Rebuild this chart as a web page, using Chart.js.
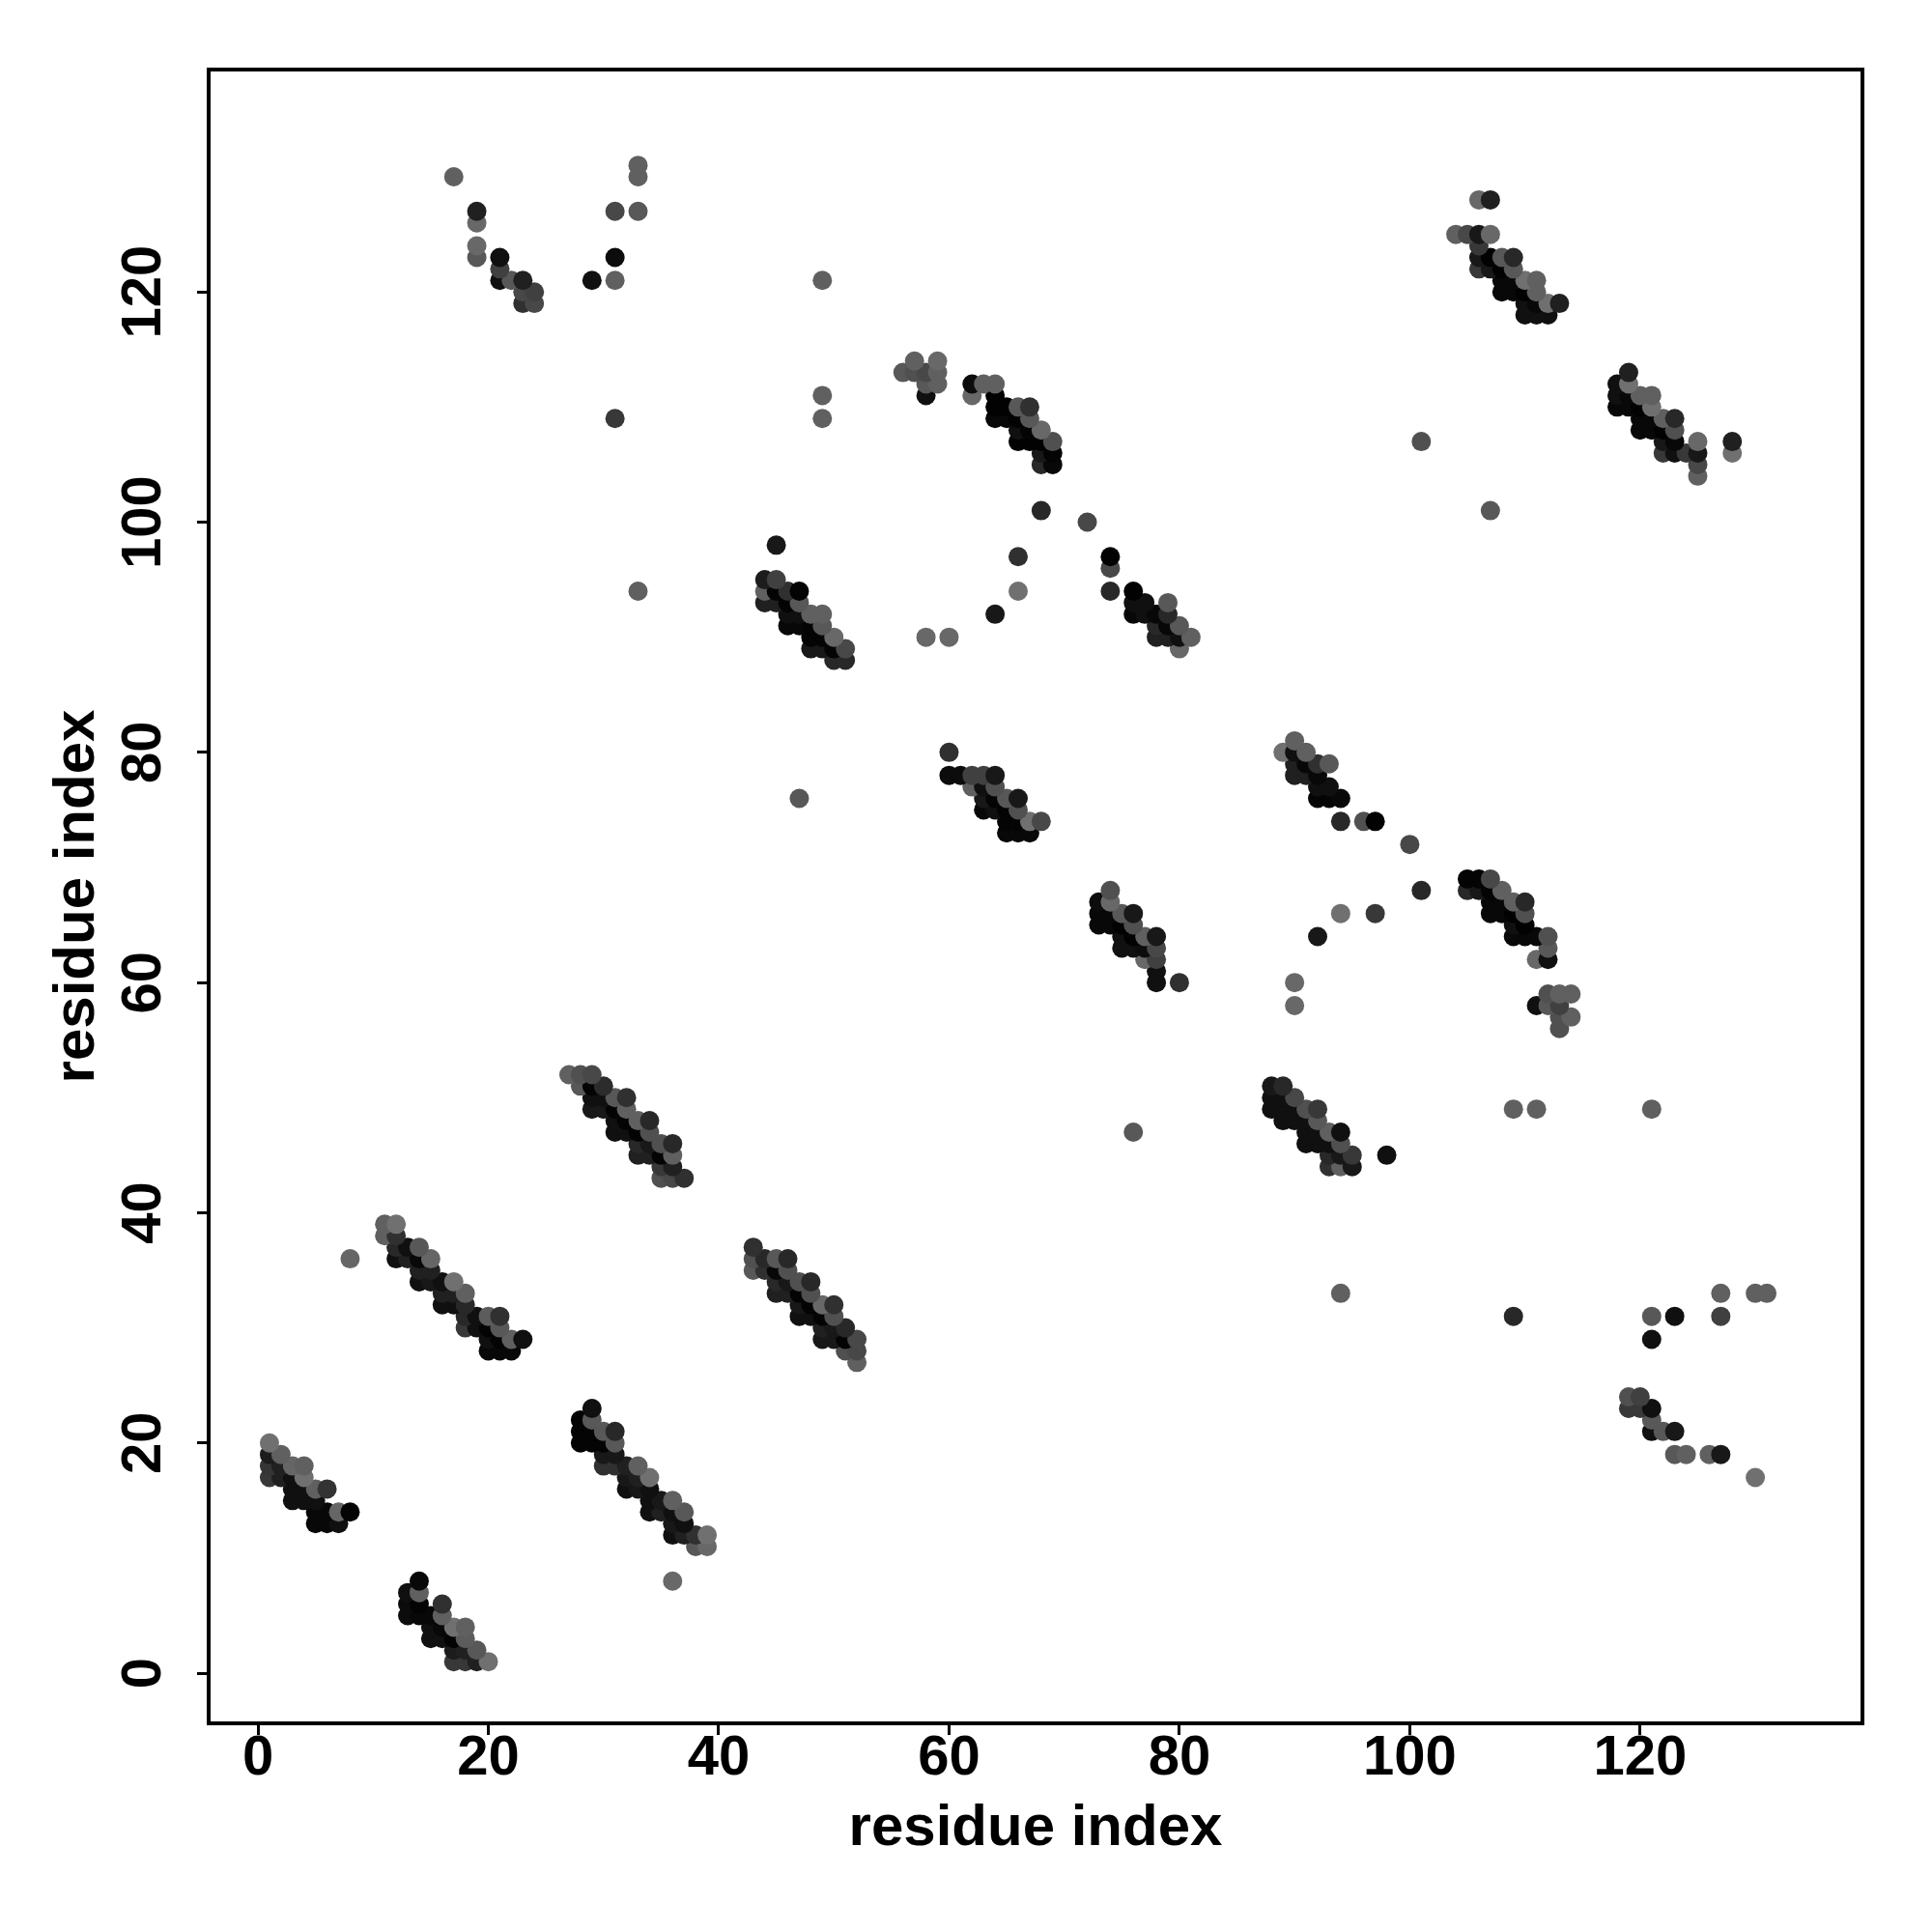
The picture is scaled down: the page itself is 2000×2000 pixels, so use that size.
<!DOCTYPE html>
<html>
<head>
<meta charset="utf-8">
<title>residue contacts</title>
<script src="https://cdn.jsdelivr.net/npm/chart.js@4"></script>
<style>
  html, body { margin: 0; padding: 0; background: #fff; }
  canvas { display: block; }
</style>
</head>
<body>
<canvas id="contactChart" width="2000" height="2000"></canvas>
<script>
// Chart data, one source line per row of contacts
const tickValues = [0, 20, 40, 60, 80, 100, 120];
const xAxisTitle = 'residue index';
const yAxisTitle = 'residue index';

const residueX = [
  1, 1,2, 1,2,3,4, 1,2,3,4, 3,4,5,6, 3,4,5, 5,6,7,8, 5,6,7,
  14, 13,14, 13,14,16, 13,14,15,16, 15,16,17,18, 15,16,17,18, 17,18,19, 17,18,19,20,
  8, 11,12, 11,12, 12,13,14, 12,13,14,15, 14,15, 14,15,16,17, 16,17,18, 16,17,18, 18,19,20,21, 18,19,20,21, 20,21,22,23, 20,21,22,
  27,28,29, 28,29,30, 29,30,31,32, 29,30,31,32, 31,32,33,34, 31,32,33,34, 33,34,35,36, 33,34,35,36, 35,36, 35,36,37,
  29, 28,29, 28,29,30,31, 28,29,30,31, 30,31, 30,31,32,33, 32,33,34, 32,33,34, 34,35,36, 34,35,36,37, 36,37, 36,37,38,39, 38,39, 36,
  43, 43,44,45,46, 43,44,45,46, 45,46,47,48, 45,46,47,48, 47,48,49,50, 47,48,49,50, 49,50,51, 49,50,51,52, 51,52, 52,
  45, 44,45, 44,45,46,47, 44,45,46,47, 46,47,48,49, 46,47,48,49, 48,49,50, 48,49,50,51, 50,51,
  47, 58,60, 64, 66, 66,
  60, 60,61,62,63,64, 62,63,64, 63,64,65,66, 63,64,65,66, 65,66,67,68, 65,66,67,
  57,59, 56,57,58,59, 58,59,62,63,64, 58,62,64, 64,65,66,67, 64,65,66,67, 66,67,68, 66,67,68,69, 68,69, 68,69,
  68, 72, 74, 74, 74,
  76, 76,77,79, 76,77,78,79, 78,79,80, 78,79,80,81, 80,
  74, 73,74, 73,74,75,76, 73,74,75,76, 75,76,77,78, 75,76,77,78, 77,78, 78, 78,80,
  90, 89,90,91, 90,91,92,93, 90,91,92, 92,93, 92,93,94, 94,96,97,
  100, 101, 94,97, 92, 90, 90,
  105,106,107, 105,106,107,108, 107,108,109,110, 107,108,109,110, 109,110, 109,110,111,112, 112, 111,112,
  112,113,114, 111,112,113, 113,114, 113,
  88,89, 88,89,90, 88,89,90,91,92, 89,90,91,92, 91,92,93,94, 91,92,93,94, 93,94,95, 93,94,95, 98,
  106,107, 104,105,106,107, 106, 106,107,108,109, 106,107,108,109, 108,109,110,111, 108,109,110,111, 110,111,112,113, 110,111,112,
  119, 118,119, 118,119,120,121, 118,119,120,121, 120,121,122,123, 120,121,122,123, 122,123,125,128, 122,123,124,125,128, 125, 125,
  107, 101,
  17, 19, 19, 19, 19, 21, 21, 21,22,23, 23,24, 23,24,
  29, 31, 31, 31, 31, 33, 33, 33, 33,
  49, 49, 49,
  76, 94, 109,111,121, 109,121,123, 121, 127, 127, 130,131, 130,
  119,120, 119,120,121, 121, 121,122,123, 123,124,126,127
];

const residueY = [
  20, 19,19, 18,18,18,18, 17,17,17,17, 16,16,16,16, 15,15,15, 14,14,14,14, 13,13,13,
  8, 7,7, 6,6,6, 5,5,5,5, 4,4,4,4, 3,3,3,3, 2,2,2, 1,1,1,1,
  36, 39,39, 38,38, 37,37,37, 36,36,36,36, 35,35, 34,34,34,34, 33,33,33, 32,32,32, 31,31,31,31, 30,30,30,30, 29,29,29,29, 28,28,28,
  52,52,52, 51,51,51, 50,50,50,50, 49,49,49,49, 48,48,48,48, 47,47,47,47, 46,46,46,46, 45,45,45,45, 44,44, 43,43,43,
  23, 22,22, 21,21,21,21, 20,20,20,20, 19,19, 18,18,18,18, 17,17,17, 16,16,16, 15,15,15, 14,14,14,14, 13,13, 12,12,12,12, 11,11, 8,
  37, 36,36,36,36, 35,35,35,35, 34,34,34,34, 33,33,33,33, 32,32,32,32, 31,31,31,31, 30,30,30, 29,29,29,29, 28,28, 27,
  98, 95,95, 94,94,94,94, 93,93,93,93, 92,92,92,92, 91,91,91,91, 90,90,90, 89,89,89,89, 88,88,
  76, 90,90, 92, 94, 97,
  80, 78,78,78,78,78, 77,77,77, 76,76,76,76, 75,75,75,75, 74,74,74,74, 73,73,73,
  114,114, 113,113,113,113, 112,112,112,112,112, 111,111,111, 110,110,110,110, 109,109,109,109, 108,108,108, 107,107,107,107, 106,106, 105,105,
  101, 100, 97, 96, 94,
  94, 93,93,93, 92,92,92,92, 91,91,91, 90,90,90,90, 89,
  68, 67,67, 66,66,66,66, 65,65,65,65, 64,64,64,64, 63,63,63,63, 62,62, 61, 60,60,
  81, 80,80,80, 79,79,79,79, 78,78,78, 77,77, 76,76,76, 74,74,74,
  72, 68, 66,66, 64, 60, 58,
  69,69,69, 68,68,68,68, 67,67,67,67, 66,66,66,66, 65,65, 64,64,64,64, 63, 62,62,
  59,59,59, 58,58,58, 57,57, 56,
  51,51, 50,50,50, 49,49,49,49,49, 48,48,48,48, 47,47,47,47, 46,46,46,46, 45,45,45, 44,44,44, 45,
  128,128, 125,125,125,125, 124, 123,123,123,123, 122,122,122,122, 121,121,121,121, 120,120,120,120, 119,119,119,119, 118,118,118,
  113, 112,112, 111,111,111,111, 110,110,110,110, 109,109,109,109, 108,108,108,108, 107,107,107,107, 106,106,106,106,106, 105, 104,
  101, 107,
  130, 127, 126, 124, 123, 123, 122, 121,121,121, 120,120, 119,119,
  121, 127, 123, 121, 109, 131, 130, 127, 94,
  121, 111, 109,
  47, 33, 49,49,49, 31,31,31, 29, 33, 31, 33,33, 17,
  24,24, 23,23,23, 22, 21,21,21, 19,19,19,19
];

// grey level of each contact, 0 = black
const contactLevel = [
  0x70, 0x1c,0x60, 0x35,0x20,0x66,0x60, 0x38,0x20,0x10,0x70, 0x10,0x10,0x60,0x33, 0x10,0x10,0x10, 0x08,0x08,0x66,0x04, 0x08,0x08,0x10,
  0x08, 0x10,0x60, 0x0c,0x04,0x30, 0x0c,0x08,0x08,0x60, 0x10,0x08,0x70,0x60, 0x10,0x10,0x04,0x5c, 0x1c,0x20,0x58, 0x38,0x38,0x20,0x70,
  0x66, 0x60,0x70, 0x60,0x30, 0x28,0x10,0x58, 0x10,0x20,0x08,0x66, 0x20,0x20, 0x10,0x18,0x10,0x70, 0x20,0x20,0x60, 0x10,0x10,0x28, 0x28,0x10,0x5c,0x30, 0x38,0x10,0x04,0x58, 0x10,0x04,0x60,0x10, 0x08,0x08,0x08,
  0x60,0x50,0x48, 0x58,0x04,0x2c, 0x10,0x10,0x58,0x30, 0x18,0x18,0x04,0x60, 0x10,0x04,0x60,0x28, 0x10,0x10,0x04,0x50, 0x28,0x18,0x50,0x28, 0x20,0x20,0x04,0x60, 0x38,0x20, 0x50,0x48,0x30,
  0x10, 0x04,0x58, 0x04,0x04,0x58,0x28, 0x04,0x04,0x04,0x58, 0x18,0x18, 0x30,0x30,0x20,0x60, 0x18,0x20,0x70, 0x10,0x18,0x10, 0x10,0x18,0x60, 0x10,0x20,0x10,0x58, 0x18,0x10, 0x10,0x20,0x30,0x70, 0x58,0x68, 0x68,
  0x30, 0x50,0x28,0x58,0x28, 0x58,0x30,0x08,0x50, 0x28,0x18,0x50,0x28, 0x20,0x20,0x04,0x50, 0x18,0x04,0x68,0x30, 0x10,0x10,0x04,0x50, 0x20,0x18,0x28, 0x18,0x18,0x04,0x48, 0x50,0x48, 0x60,
  0x18, 0x1c,0x40, 0x60,0x04,0x30,0x04, 0x20,0x20,0x04,0x58, 0x10,0x10,0x60,0x60, 0x08,0x08,0x04,0x58, 0x04,0x04,0x68, 0x18,0x18,0x04,0x48, 0x28,0x28,
  0x58, 0x68,0x68, 0x18, 0x70, 0x30,
  0x30, 0x0c,0x0c,0x40,0x40,0x18, 0x60,0x10,0x50, 0x18,0x04,0x58,0x18, 0x08,0x10,0x04,0x50, 0x04,0x04,0x70,0x48, 0x08,0x08,0x08,
  0x60,0x68, 0x58,0x50,0x48,0x60, 0x58,0x60,0x0c,0x60,0x60, 0x10,0x68,0x02, 0x02,0x02,0x58,0x30, 0x08,0x08,0x02,0x58, 0x10,0x04,0x68, 0x02,0x02,0x02,0x50, 0x18,0x04, 0x28,0x08,
  0x28, 0x48, 0x02, 0x48, 0x28,
  0x02, 0x10,0x10,0x58, 0x08,0x10,0x08,0x28, 0x28,0x08,0x58, 0x20,0x20,0x10,0x60, 0x68,
  0x50, 0x0c,0x68, 0x08,0x08,0x58,0x18, 0x08,0x08,0x02,0x50, 0x10,0x02,0x60,0x18, 0x10,0x10,0x0c,0x48, 0x68,0x40, 0x10, 0x10,0x30,
  0x60, 0x70,0x10,0x60, 0x20,0x08,0x30,0x58, 0x20,0x20,0x08, 0x10,0x10, 0x04,0x04,0x08, 0x28,0x50,0x02,
  0x48, 0x28, 0x70,0x38, 0x18, 0x68, 0x68,
  0x04,0x04,0x48, 0x28,0x18,0x04,0x60, 0x08,0x08,0x60,0x28, 0x08,0x08,0x02,0x50, 0x10,0x02, 0x08,0x08,0x08,0x50, 0x58, 0x68,0x10,
  0x50,0x60,0x60, 0x10,0x58,0x40, 0x50,0x60, 0x50,
  0x18,0x28, 0x10,0x10,0x48, 0x10,0x10,0x10,0x50,0x38, 0x10,0x10,0x10,0x58, 0x10,0x10,0x60,0x10, 0x10,0x10,0x10,0x50, 0x28,0x18,0x38, 0x30,0x60,0x18, 0x10,
  0x68,0x20, 0x60,0x48,0x18,0x68, 0x38, 0x18,0x02,0x58,0x28, 0x38,0x18,0x02,0x58, 0x08,0x08,0x70,0x60, 0x08,0x08,0x02,0x60, 0x10,0x08,0x70,0x20, 0x10,0x10,0x10,
  0x20, 0x10,0x70, 0x10,0x08,0x60,0x60, 0x08,0x08,0x02,0x70, 0x08,0x08,0x60,0x28, 0x08,0x08,0x02,0x50, 0x18,0x08,0x68,0x20, 0x38,0x10,0x38,0x18,0x70, 0x48, 0x60,
  0x58, 0x50,
  0x60, 0x20, 0x68, 0x68, 0x58, 0x10, 0x40, 0x10,0x58,0x20, 0x48,0x40, 0x30,0x48,
  0x10, 0x48, 0x0c, 0x60, 0x38, 0x60, 0x60, 0x58, 0x60,
  0x60, 0x60, 0x60,
  0x58, 0x60, 0x60,0x60,0x60, 0x28,0x58,0x10, 0x10, 0x60, 0x40, 0x60,0x60, 0x70,
  0x50,0x40, 0x38,0x38,0x10, 0x58, 0x10,0x58,0x18, 0x58,0x60,0x60,0x18
];

document.addEventListener('DOMContentLoaded', function () {
  // R draws row by row, so later rows sit on top of earlier ones
  const order = residueX.map((_, i) => i);
  order.sort((a, b) => residueY[a] - residueY[b] || residueX[a] - residueX[b]);

  const points = order.map(i => ({ x: residueX[i], y: residueY[i] }));
  const colors = order.map(i => `rgb(${contactLevel[i]}, ${contactLevel[i]}, ${contactLevel[i]})`);

  const frame = {
    id: 'frame',
    afterDraw(chart) {
      const { ctx, chartArea: a } = chart;
      ctx.save();
      ctx.strokeStyle = '#000';
      ctx.lineWidth = 4;
      ctx.strokeRect(a.left, a.top, a.right - a.left, a.bottom - a.top);
      ctx.restore();
    }
  };

  const useTickValues = axis => {
    axis.ticks = tickValues.map(v => ({ value: v }));
  };

  new Chart(document.getElementById('contactChart'), {
    type: 'scatter',
    data: {
      datasets: [{
        data: points,
        pointRadius: 10,
        pointHoverRadius: 10,
        pointBorderWidth: 0,
        pointBackgroundColor: colors
      }]
    },
    options: {
      responsive: false,
      animation: false,
      layout: { padding: { top: 72, right: 72 } },
      plugins: { legend: { display: false }, tooltip: { enabled: false } },
      scales: {
        x: {
          min: -4.28,
          max: 139.3,
          afterBuildTicks: useTickValues,
          afterFit: axis => { axis.height = 216; },
          border: { display: false },
          grid: { drawOnChartArea: false, tickLength: 12, tickColor: '#000', tickWidth: 3 },
          ticks: {
            color: '#000',
            padding: -4,
            maxRotation: 0,
            autoSkip: false,
            font: { family: '"Liberation Sans"', weight: 'bold', size: 58, lineHeight: 1 }
          },
          title: {
            display: true,
            text: xAxisTitle,
            color: '#000',
            padding: { top: 0, bottom: 77 },
            font: { family: '"Liberation Sans"', weight: 'bold', size: 60, lineHeight: 1 }
          }
        },
        y: {
          min: -4.36,
          max: 139.32,
          afterBuildTicks: useTickValues,
          afterFit: axis => { axis.width = 216; },
          border: { display: false },
          grid: { drawOnChartArea: false, tickLength: 12, tickColor: '#000', tickWidth: 3 },
          ticks: {
            color: '#000',
            padding: 6,
            minRotation: 90,
            maxRotation: 90,
            crossAlign: 'center',
            autoSkip: false,
            font: { family: '"Liberation Sans"', weight: 'bold', size: 58, lineHeight: 1 }
          },
          title: {
            display: true,
            text: yAxisTitle,
            color: '#000',
            padding: { top: 50, bottom: 0 },
            font: { family: '"Liberation Sans"', weight: 'bold', size: 60, lineHeight: 1 }
          }
        }
      }
    },
    plugins: [frame]
  });
});
</script>
</body>
</html>
